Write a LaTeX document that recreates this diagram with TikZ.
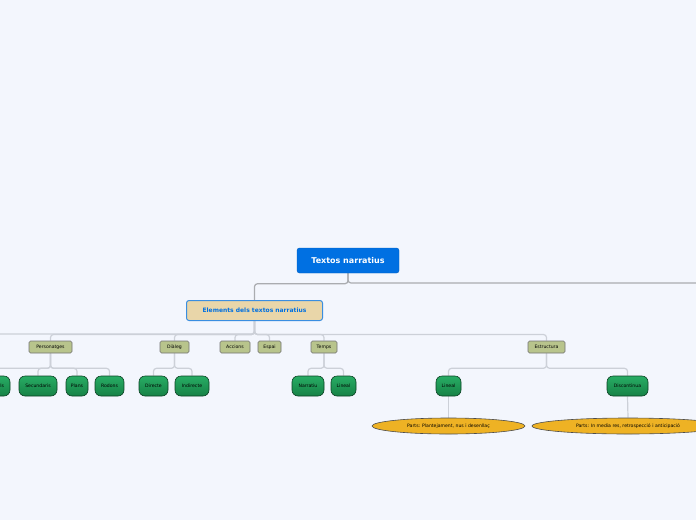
\documentclass[tikz,border=0pt]{standalone}
\usepackage{fontspec}
\setmainfont{DejaVu Sans}
\usetikzlibrary{shapes.geometric,positioning,backgrounds}
\definecolor{mmBack}{RGB}{243,246,253}
\definecolor{mmRoot}{RGB}{0,112,226}
\definecolor{mmTan}{RGB}{233,214,169}
\definecolor{mmEdge}{RGB}{58,142,224}
\definecolor{mmOlive}{RGB}{184,196,140}
\definecolor{mmGreenTop}{RGB}{40,172,100}
\definecolor{mmGreenBot}{RGB}{22,130,70}
\definecolor{mmGold}{RGB}{238,178,36}
\definecolor{mmLine}{RGB}{204,208,216}
\definecolor{mmLineDark}{RGB}{170,172,176}

\begin{document}
\begin{tikzpicture}[x=1pt, y=-1pt,
    rootbox/.style={fill=mmRoot, draw=mmRoot!85!black, rounded corners=2.5pt, text=white,
        font=\fontsize{8}{9}\selectfont\bfseries, minimum height=25pt, inner sep=0pt},
    mainbox/.style={fill=mmTan, draw=mmEdge, line width=1pt, rounded corners=2.5pt, text=mmRoot,
        font=\fontsize{6}{7}\selectfont\bfseries, minimum height=20pt, inner sep=0pt},
    topic/.style={fill=mmOlive, draw=black!55, line width=0.6pt, rounded corners=1.5pt, text=black,
        font=\fontsize{4.6}{5.5}\selectfont, minimum height=12pt, inner sep=0pt},
    sub/.style={top color=mmGreenTop, bottom color=mmGreenBot, draw=mmGreenBot!50!black,
        line width=0.6pt, rounded corners=6pt, text=black, font=\fontsize{4.6}{5.5}\selectfont,
        minimum height=20pt, inner sep=0pt},
    leaf/.style={ellipse, fill=mmGold, draw=black!70, line width=0.6pt, text=black,
        font=\fontsize{4.6}{5.5}\selectfont, minimum height=16pt, inner sep=0pt},
    link/.style={draw=mmLine, line width=1.2pt, rounded corners=3pt},
    toplink/.style={draw=mmLineDark, line width=1.2pt, rounded corners=3pt}]

    % background and frame
    \begin{pgfonlayer}{background}
        \fill[mmBack] (0,0) rectangle (696,520);
    \end{pgfonlayer}
    \useasboundingbox (0,0) rectangle (696,520);

    % central topic
    \node[rootbox, minimum width=102pt] (root) at (348,260.5) {Textos narratius};
    \node[mainbox, minimum width=136pt] (elem) at (254.5,310.5) {Elements dels textos narratius};
    \coordinate (rightend) at (700,283);

    % main topics
    \node[topic, minimum width=43pt] (pers) at (50.5,347) {Personatges};
    \node[topic, minimum width=29pt] (dial) at (174.5,347) {Diàleg};
    \node[topic, minimum width=30pt] (acc) at (235,347) {Accions};
    \node[topic, minimum width=23pt] (esp) at (269.5,347) {Espai};
    \node[topic, minimum width=26pt] (temps) at (324,347) {Temps};
    \node[topic, minimum width=37pt] (estr) at (546.5,347) {Estructura};
    \coordinate (leftend) at (-6,334);

    % subtopics
    \node[sub, minimum width=34pt] (princ) at (-7,386) {Principals};
    \node[sub, minimum width=38pt] (sec) at (38,386) {Secundaris};
    \node[sub, minimum width=22pt] (plans) at (77,386) {Plans};
    \node[sub, minimum width=29pt] (rod) at (109.5,386) {Rodons};
    \node[sub, minimum width=29pt] (dir) at (153.5,386) {Directe};
    \node[sub, minimum width=34pt] (ind) at (192,386) {Indirecte};
    \node[sub, minimum width=32pt] (narr) at (308,386) {Narratiu};
    \node[sub, minimum width=25pt] (lin) at (343.5,386) {Lineal};
    \node[sub, minimum width=25pt] (linb) at (448.5,386) {Lineal};
    \node[sub, minimum width=41pt] (disc) at (627.5,386) {Discontinua};

    % details
    \node[leaf, minimum width=153pt] (partsa) at (448.5,426) {Parts: Plantejament, nus i desenllaç};
    \node[leaf, minimum width=192pt] (partsb) at (628,426) {Parts: In media res, retrospecció i anticipació};

    % connectors
    \begin{pgfonlayer}{background}
    \path[toplink] (root.south) -- ++(0,10.5) -| (elem.north);
    \path[toplink] (root.south) |- (rightend);
    \foreach \t in {pers,dial,acc,esp,temps,estr}
        \path[link] (elem.south) -- ++(0,13.5) -| (\t.north);
    \path[link] (elem.south) |- (leftend);
    \foreach \t in {princ,sec,plans,rod}
        \path[link] (pers.south) -- ++(0,15) -| (\t.north);
    \foreach \t in {dir,ind}
        \path[link] (dial.south) -- ++(0,15) -| (\t.north);
    \foreach \t in {narr,lin}
        \path[link] (temps.south) -- ++(0,15) -| (\t.north);
    \foreach \t in {linb,disc}
        \path[link] (estr.south) -- ++(0,15) -| (\t.north);
    \path[link] (linb.south) -- (partsa.north);
    \path[link] (disc.south) -- (partsb.north);
    \end{pgfonlayer}
\end{tikzpicture}
\end{document}
